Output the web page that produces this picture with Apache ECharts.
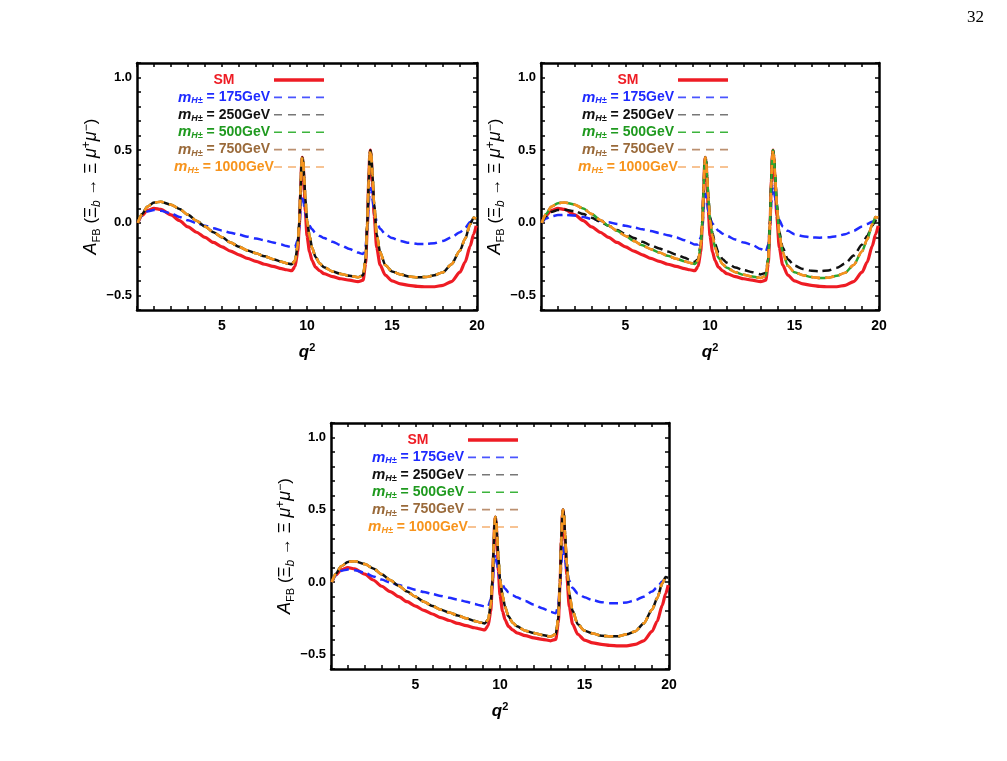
<!DOCTYPE html>
<html>
<head>
<meta charset="utf-8">
<title>A_FB vs q2</title>
<script src="https://cdn.jsdelivr.net/npm/echarts@6/dist/echarts.min.js"></script>
<style>
html, body { margin: 0; padding: 0; background: #fff; }
#chart { width: 1007px; height: 761px; }
</style>
</head>
<body>
<div id="chart"></div>
<script>
// q^2 sample points, denser around the two charmonium spikes
const qValues = [0.05, 0.3, 0.6, 1.0, 1.4, 2.0, 2.5, 3.0, 3.5, 4.0, 4.5, 5.0, 5.5, 6.0, 6.5, 7.0, 7.5, 8.0, 8.5, 8.8,
  9.1, 9.3, 9.45, 9.55, 9.62, 9.68, 9.72, 9.77, 9.83, 9.9, 10.0, 10.15, 10.3, 10.5, 10.75, 11.0, 11.5, 12.0, 12.5, 13.0,
  13.3, 13.45, 13.55, 13.63, 13.69, 13.73, 13.78, 13.85, 13.95, 14.1, 14.3, 14.6, 15.0, 15.5, 16.0, 16.5, 17.0, 17.5, 18.0, 18.5,
  19.0, 19.3, 19.6, 19.8, 19.95];

// SM curve (same in every panel)
const smValues = [0.00, 0.05, 0.085, 0.10, 0.092, 0.055, 0.015, -0.028, -0.065, -0.10, -0.135, -0.165, -0.195, -0.22, -0.245, -0.265, -0.285, -0.30, -0.315, -0.323,
  -0.33, -0.30, -0.20, -0.02, 0.20, 0.40, 0.45, 0.42, 0.28, 0.08, -0.09, -0.20, -0.26, -0.305, -0.33, -0.35, -0.37, -0.385, -0.395, -0.405,
  -0.395, -0.28, -0.02, 0.28, 0.47, 0.50, 0.45, 0.28, 0.05, -0.17, -0.29, -0.36, -0.40, -0.42, -0.43, -0.437, -0.44, -0.44, -0.43, -0.405,
  -0.34, -0.27, -0.16, -0.08, -0.02];

// panels 1 and 3
const m175ValuesA = [0.00, 0.05, 0.078, 0.088, 0.083, 0.065, 0.04, 0.018, -0.002, -0.02, -0.037, -0.053, -0.068, -0.082, -0.095, -0.108, -0.12, -0.135, -0.15, -0.16,
  -0.168, -0.165, -0.12, -0.03, 0.08, 0.17, 0.19, 0.18, 0.13, 0.07, 0.02, -0.02, -0.045, -0.07, -0.09, -0.105, -0.13, -0.155, -0.18, -0.205,
  -0.215, -0.16, -0.03, 0.13, 0.22, 0.24, 0.22, 0.16, 0.08, 0.01, -0.04, -0.078, -0.105, -0.125, -0.138, -0.145, -0.145, -0.14, -0.125, -0.10,
  -0.065, -0.035, 0.005, 0.025, 0.02];
const heavyValuesA = [0.00, 0.06, 0.11, 0.14, 0.145, 0.125, 0.095, 0.055, 0.015, -0.025, -0.065, -0.10, -0.135, -0.165, -0.19, -0.21, -0.23, -0.25, -0.268, -0.278,
  -0.285, -0.26, -0.16, 0.01, 0.22, 0.41, 0.45, 0.43, 0.32, 0.17, 0.02, -0.09, -0.17, -0.235, -0.28, -0.305, -0.335, -0.352, -0.365, -0.375,
  -0.36, -0.25, 0.00, 0.29, 0.47, 0.50, 0.47, 0.33, 0.13, -0.08, -0.20, -0.29, -0.335, -0.355, -0.37, -0.375, -0.373, -0.36, -0.34, -0.285,
  -0.19, -0.11, -0.01, 0.035, 0.03];

// panel 2
const m175ValuesB = [0.00, 0.03, 0.045, 0.053, 0.055, 0.05, 0.04, 0.027, 0.015, 0.004, -0.008, -0.02, -0.032, -0.045, -0.057, -0.07, -0.085, -0.10, -0.12, -0.135,
  -0.15, -0.15, -0.10, -0.02, 0.09, 0.18, 0.20, 0.19, 0.14, 0.08, 0.03, -0.005, -0.03, -0.055, -0.075, -0.09, -0.115, -0.135, -0.152, -0.18,
  -0.20, -0.15, -0.02, 0.14, 0.23, 0.25, 0.23, 0.17, 0.09, 0.02, -0.025, -0.055, -0.078, -0.092, -0.10, -0.102, -0.10, -0.092, -0.078, -0.055,
  -0.025, -0.008, 0.008, 0.015, 0.015];
const m250ValuesB = [0.00, 0.045, 0.075, 0.088, 0.09, 0.08, 0.06, 0.035, 0.008, -0.02, -0.05, -0.078, -0.105, -0.13, -0.155, -0.177, -0.198, -0.218, -0.24, -0.255,
  -0.268, -0.25, -0.15, 0.02, 0.23, 0.41, 0.45, 0.43, 0.32, 0.18, 0.04, -0.07, -0.145, -0.205, -0.25, -0.275, -0.308, -0.325, -0.34, -0.355,
  -0.345, -0.24, 0.01, 0.30, 0.47, 0.50, 0.47, 0.34, 0.14, -0.06, -0.17, -0.25, -0.295, -0.318, -0.33, -0.333, -0.328, -0.31, -0.28, -0.225,
  -0.15, -0.09, -0.02, 0.015, 0.025];
const heavyValuesB = [0.00, 0.06, 0.11, 0.135, 0.14, 0.125, 0.098, 0.06, 0.02, -0.02, -0.055, -0.09, -0.125, -0.155, -0.182, -0.205, -0.227, -0.247, -0.265, -0.275,
  -0.283, -0.26, -0.16, 0.01, 0.22, 0.41, 0.45, 0.43, 0.32, 0.17, 0.02, -0.09, -0.17, -0.24, -0.285, -0.31, -0.34, -0.358, -0.37, -0.38,
  -0.365, -0.25, 0.00, 0.29, 0.47, 0.50, 0.47, 0.33, 0.13, -0.08, -0.20, -0.295, -0.34, -0.36, -0.373, -0.38, -0.378, -0.365, -0.343, -0.29,
  -0.195, -0.115, -0.01, 0.04, 0.035];

const xTickLabels = [5, 10, 15, 20];
const yTickLabels = [-0.5, 0, 0.5, 1.0];
const massLabels = ['175GeV', '250GeV', '500GeV', '750GeV', '1000GeV'];

const seriesLooks = [
  { name: 'SM', color: '#ee1c24', legendColor: '#ee1c24', width: 3.2, dash: 'solid' },
  { name: '175GeV', color: '#1f2bff', legendColor: '#4a55ff', width: 2.5, dash: [9, 5] },
  { name: '250GeV', color: '#111111', legendColor: '#777777', width: 2.5, dash: [9, 5] },
  { name: '500GeV', color: '#2ea62e', legendColor: '#3cb43c', width: 2.5, dash: [9, 5] },
  { name: '750GeV', color: '#a46c3a', legendColor: '#bb9070', width: 2.5, dash: [9, 5] },
  { name: '1000GeV', color: '#f7941d', legendColor: '#f5b070', width: 2.5, dash: [9, 5] }
];
const textColors = ['#ee1c24', '#1f2bff', '#111111', '#1f9a1f', '#9a6a3a', '#f7941d'];

const panels = [
  { left: 137, top: 63, width: 340, height: 247,
    values: [smValues, m175ValuesA, heavyValuesA, heavyValuesA, heavyValuesA, heavyValuesA], offsets: [0, 0, 7, 0, 0, 0] },
  { left: 541, top: 63, width: 338, height: 247,
    values: [smValues, m175ValuesB, m250ValuesB, heavyValuesB, heavyValuesB, heavyValuesB], offsets: [0, 0, 0, 7, 0, 0] },
  { left: 331, top: 423, width: 338, height: 246,
    values: [smValues, m175ValuesA, heavyValuesA, heavyValuesA, heavyValuesA, heavyValuesA], offsets: [0, 0, 7, 0, 0, 0] }
];

const labelFont = '"Liberation Sans", Arial, sans-serif';
const frameLine = { show: true, onZero: false, lineStyle: { color: '#000', width: 2.5 } };
const innerTick = { show: true, inside: true, length: 4, lineStyle: { color: '#000', width: 1.5 } };

const chart = echarts.init(document.getElementById('chart'), null, { renderer: 'canvas' });

const grids = [];
const xAxes = [];
const yAxes = [];
const series = [];
const graphics = [];

panels.forEach((p, pi) => {
  grids.push({ left: p.left, top: p.top, width: p.width, height: p.height, containLabel: false });

  const xBase = { gridIndex: pi, type: 'value', min: 0, max: 20, interval: 1, axisLine: frameLine, axisTick: innerTick, splitLine: { show: false } };
  xAxes.push(Object.assign({}, xBase, {
    position: 'bottom',
    axisLabel: {
      customValues: xTickLabels, margin: 9, color: '#000', fontSize: 14, fontWeight: 'bold', fontFamily: labelFont
    },
    name: '{i|q}{s|2}',
    nameLocation: 'middle',
    nameGap: 32,
    nameTextStyle: {
      rich: {
        i: { fontSize: 17, fontStyle: 'italic', fontWeight: 'bold', fontFamily: labelFont, color: '#000', lineHeight: 20 },
        s: { fontSize: 11, fontWeight: 'bold', fontFamily: labelFont, color: '#000', verticalAlign: 'top', lineHeight: 11 }
      }
    }
  }));
  xAxes.push(Object.assign({}, xBase, { position: 'top', axisLabel: { show: false } }));

  const yBase = { gridIndex: pi, type: 'value', min: -0.6, max: 1.1, interval: 0.1, axisLine: frameLine, axisTick: innerTick, splitLine: { show: false } };
  yAxes.push(Object.assign({}, yBase, {
    position: 'left',
    axisLabel: {
      customValues: yTickLabels, margin: 5, color: '#000', fontSize: 13, fontWeight: 'bold', fontFamily: labelFont,
      formatter: v => (v < 0 ? '\u2212' : '') + Math.abs(v).toFixed(1)
    },
    name: '{i|A}{s|FB} (\u039E{b|b} \u2192 \u039E {i|\u03BC}{p|+}{i|\u03BC}{p|\u2212})',
    nameLocation: 'middle',
    nameRotate: 90,
    nameGap: 26,
    nameTextStyle: {
      fontSize: 17, fontFamily: labelFont, color: '#000', lineHeight: 22,
      rich: {
        i: { fontSize: 18, fontStyle: 'italic', fontFamily: labelFont, color: '#000', lineHeight: 22 },
        s: { fontSize: 11, fontFamily: labelFont, color: '#000', verticalAlign: 'bottom', lineHeight: 11 },
        b: { fontSize: 12, fontStyle: 'italic', fontFamily: labelFont, color: '#000', verticalAlign: 'bottom', lineHeight: 12 },
        p: { fontSize: 12, fontFamily: labelFont, color: '#000', verticalAlign: 'top', lineHeight: 12 }
      }
    }
  }));
  yAxes.push(Object.assign({}, yBase, { position: 'right', axisLabel: { show: false } }));

  seriesLooks.forEach((look, si) => {
    series.push({
      name: look.name,
      type: 'line',
      xAxisIndex: pi * 2,
      yAxisIndex: pi * 2,
      data: qValues.map((q, i) => [q, p.values[si][i]]),
      showSymbol: false,
      smooth: 0.25,
      smoothMonotone: 'x',
      animation: false,
      silent: true,
      lineStyle: { color: look.color, width: look.width, type: look.dash, dashOffset: p.offsets[si] }
    });
  });

  // legend block drawn inside the frame, text centred in a column with line samples at the right
  const legendChildren = [];
  seriesLooks.forEach((look, si) => {
    const rowY = 17 + si * 17.4;
    const text = si === 0 ? '{t|SM}' : '{m|m}{h|H\u00B1}{t| = ' + massLabels[si - 1] + '}';
    const c = textColors[si];
    legendChildren.push({
      type: 'text',
      style: {
        x: 87, y: rowY, text: text, align: 'center', verticalAlign: 'middle',
        rich: {
          t: { fontSize: 14, fontWeight: 'bold', fontFamily: labelFont, fill: c, lineHeight: 16 },
          m: { fontSize: 15, fontWeight: 'bold', fontStyle: 'italic', fontFamily: labelFont, fill: c, lineHeight: 16 },
          h: { fontSize: 9, fontWeight: 'bold', fontStyle: 'italic', fontFamily: labelFont, fill: c, verticalAlign: 'bottom', lineHeight: 9 }
        }
      }
    });
    legendChildren.push({
      type: 'line',
      shape: { x1: 137, y1: rowY, x2: 187, y2: rowY },
      style: {
        stroke: look.legendColor,
        lineWidth: si === 0 ? 3.5 : 1.6,
        lineDash: si === 0 ? null : [8, 6]
      }
    });
  });
  graphics.push({ type: 'group', x: p.left, y: p.top, silent: true, children: legendChildren });
});

graphics.push({
  type: 'text',
  x: 967,
  y: 9,
  silent: true,
  style: { text: '32', fontSize: 17, fontFamily: '"Liberation Serif", "Times New Roman", serif', fill: '#000' }
});

chart.setOption({
  backgroundColor: '#fff',
  animation: false,
  grid: grids,
  xAxis: xAxes,
  yAxis: yAxes,
  series: series,
  graphic: graphics
});
</script>
</body>
</html>
